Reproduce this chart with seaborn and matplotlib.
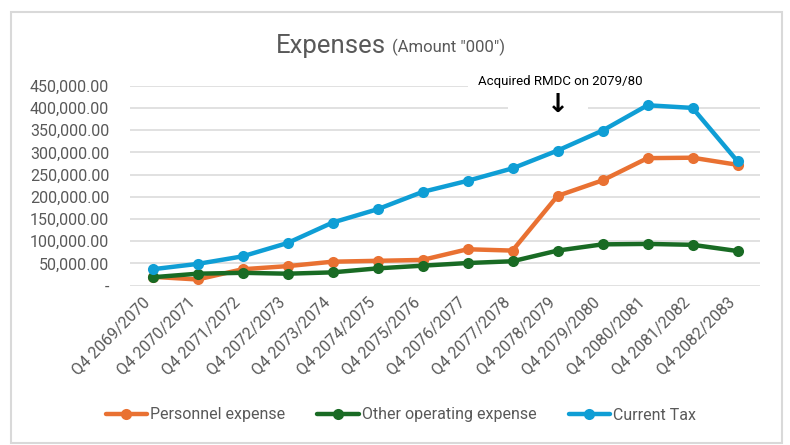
import matplotlib
matplotlib.use("Agg")
import matplotlib.pyplot as plt
import matplotlib.ticker as mticker
from matplotlib.patches import Rectangle
import seaborn as sns
import pandas as pd

quarters = ["Q4 2069/2070", "Q4 2070/2071", "Q4 2071/2072", "Q4 2072/2073",
            "Q4 2073/2074", "Q4 2074/2075", "Q4 2075/2076", "Q4 2076/2077",
            "Q4 2077/2078", "Q4 2078/2079", "Q4 2079/2080", "Q4 2080/2081",
            "Q4 2081/2082", "Q4 2082/2083"]
personnel = [20000, 14000, 37000, 44000, 54000, 56000, 58000, 82000,
             79000, 202000, 237000, 287000, 288000, 272000]
other_opex = [19000, 27000, 29000, 27000, 30000, 39000, 45000, 51000,
              55000, 79000, 93000, 94000, 92000, 78000]
current_tax = [37000, 49000, 66000, 96000, 142000, 172000, 211000, 236000,
               264000, 304000, 349000, 406000, 400000, 280000]
series_names = ["Personnel expense", "Other operating expense", "Current Tax"]
colors = ["#E97132", "#196B24", "#0F9ED5"]
title_main = "Expenses"
title_sub = '(Amount "000")'
note_text = "Acquired RMDC on 2079/80"

df = pd.DataFrame({"Quarter": quarters,
                   series_names[0]: personnel,
                   series_names[1]: other_opex,
                   series_names[2]: current_tax})
long = df.melt(id_vars="Quarter", var_name="Series", value_name="Value")

sns.set_theme(style="white")
FONT = ["Roboto", "DejaVu Sans"]
plt.rcParams["font.family"] = FONT
TXT = "#595959"
GRID = "#D9D9D9"

W, H = 790, 445
fig = plt.figure(figsize=(W / 100, H / 100), dpi=100)
ax = fig.add_axes([130 / W, 1 - 285.7 / H, 630 / W, 200 / H])

sns.lineplot(data=long, x="Quarter", y="Value", hue="Series",
             hue_order=series_names, palette=colors, marker="o",
             markersize=8, markeredgewidth=0, linewidth=3.2, sort=False,
             ax=ax, zorder=3)

ax.set_xlim(-0.5, len(quarters) - 0.5)
ax.set_ylim(0, 450000)
ax.yaxis.set_major_locator(mticker.MultipleLocator(50000))
ax.yaxis.set_major_formatter(mticker.FuncFormatter(
    lambda v, p: "-" if abs(v) < 1e-6 else f"{v:,.2f}"))
ax.grid(axis="y", color=GRID, linewidth=1.1, zorder=0)
ax.grid(axis="x", visible=False)
ax.set_axisbelow(True)
for s in ax.spines.values():
    s.set_visible(False)
ax.set_xlabel("")
ax.set_ylabel("")
ax.tick_params(axis="y", length=0, pad=15, labelsize=11.5, labelcolor=TXT)
ax.tick_params(axis="x", length=0, pad=6, labelsize=11.5, labelcolor=TXT)
for lab in ax.get_xticklabels():
    lab.set_rotation(45)
    lab.set_ha("right")
    lab.set_rotation_mode("default")

# white boxes behind annotation (hide gridline segments)
ax.add_patch(Rectangle((468 / W, 1 - 93 / H), (762 - 468) / W, 18 / H,
                       transform=fig.transFigure, facecolor="white",
                       edgecolor="none", zorder=1, clip_on=False))
ax.add_patch(Rectangle((508 / W, 1 - 118 / H), 80 / W, 24 / H,
                       transform=fig.transFigure, facecolor="white",
                       edgecolor="none", zorder=1, clip_on=False))
fig.text(560.5 / W, 1 - 82 / H, note_text, ha="center", va="center",
         fontsize=9.5, color="black", family=FONT)
fig.text(558 / W, 1 - 105 / H, "\u2193", ha="center", va="center",
         fontsize=19, fontweight="bold", color="black",
         family=["DejaVu Sans"])

# title
fig.text(386 / W, 1 - 52.5 / H, title_main, ha="right", va="baseline",
         fontsize=18.5, color=TXT, family=FONT)
fig.text(392 / W, 1 - 52.5 / H, title_sub, ha="left", va="baseline",
         fontsize=12, color=TXT, family=FONT)

# legend
handles, labels = ax.get_legend_handles_labels()
leg = ax.legend(handles, labels, loc="center", ncol=3, frameon=False,
                bbox_to_anchor=(401 / W, 1 - 415 / H),
                bbox_transform=fig.transFigure, fontsize=11.5,
                handlelength=2.6, handletextpad=0.2, columnspacing=2.0,
                labelcolor=TXT)

# chart border
fig.patches.append(Rectangle((11 / W, 1 - 443 / H), (782 - 11) / W,
                             (443 - 12) / H, transform=fig.transFigure,
                             facecolor="none", edgecolor=GRID, linewidth=1.5))

fig.savefig("out.png", dpi=100)
